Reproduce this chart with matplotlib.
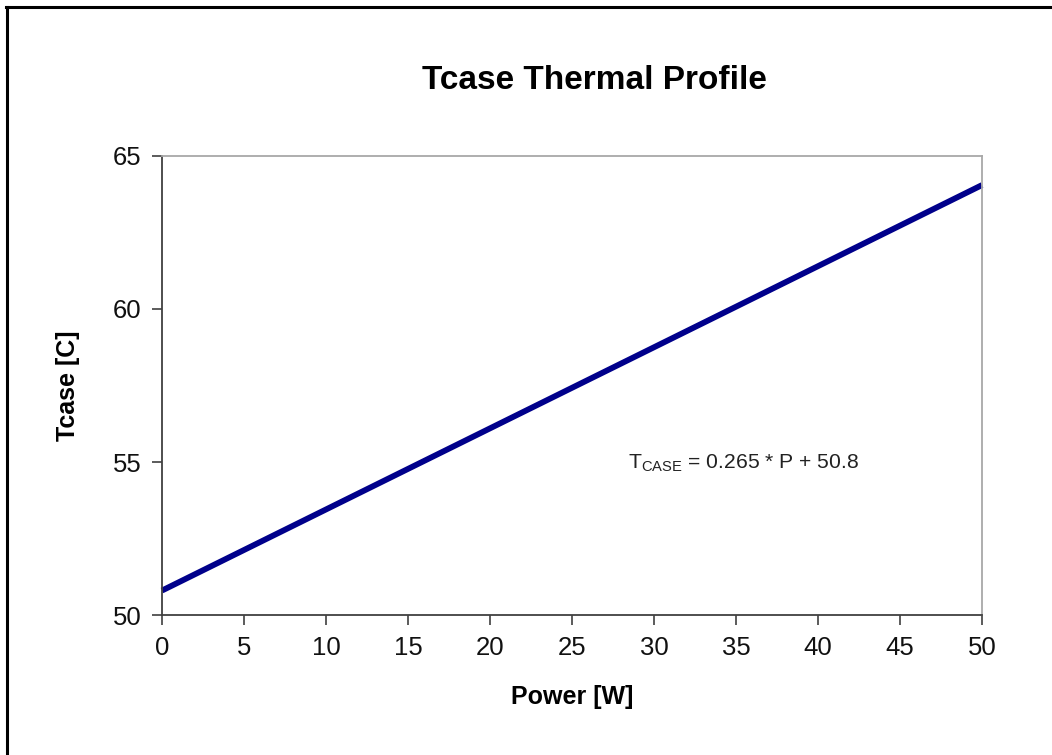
import matplotlib
matplotlib.use("Agg")
import matplotlib.pyplot as plt
from matplotlib.lines import Line2D

# data
power = [0, 50]
tcase = [50.8, 64.05]
x_ticks = [0, 5, 10, 15, 20, 25, 30, 35, 40, 45, 50]
y_ticks = [50, 55, 60, 65]

plt.rcParams.update({
    'font.family': ['Liberation Sans', 'DejaVu Sans'],
    'mathtext.fontset': 'custom',
    'mathtext.rm': 'Liberation Sans',
})

fig = plt.figure(figsize=(10.52, 7.55), dpi=100)
ax = fig.add_axes([0.154, 0.1854, 0.7795, 0.608])

ax.plot(power, tcase, color="#00008B", linewidth=4.2, solid_capstyle='butt', clip_on=False)

ax.set_xlim(0, 50)
ax.set_ylim(50, 65)
ax.set_xticks(x_ticks)
ax.set_yticks(y_ticks)
ax.tick_params(direction='out', length=7, width=1.2, colors='#404040', labelsize=18.5,
               labelcolor='#111111')
ax.tick_params(axis='x', pad=8)
ax.tick_params(axis='y', pad=8)

for side in ['left', 'bottom']:
    ax.spines[side].set_color('#404040')
    ax.spines[side].set_linewidth(1.3)
for side in ['top', 'right']:
    ax.spines[side].set_color('#a8a8a8')
    ax.spines[side].set_linewidth(1.3)

ax.set_title("Tcase Thermal Profile", fontsize=24, fontweight='bold', pad=48, x=0.527)
ax.set_xlabel("Power [W]", fontsize=18, fontweight='bold', labelpad=18)
ax.set_ylabel("Tcase [C]", fontsize=18, fontweight='bold', labelpad=23)

ax.text(28.4, 54.95, r'$\mathregular{T_{CASE}}$ = 0.265 * P + 50.8', fontsize=15.2,
        color='#222222', va='center', ha='left')

# frame lines on left and top of the page
fig.add_artist(Line2D([0.0071, 0.0071], [0, 0.9907], transform=fig.transFigure,
                      color='black', linewidth=2.2))
fig.add_artist(Line2D([0.006, 1.0], [0.9907, 0.9907], transform=fig.transFigure,
                      color='black', linewidth=2.2))

fig.savefig("out.png", dpi=100)
